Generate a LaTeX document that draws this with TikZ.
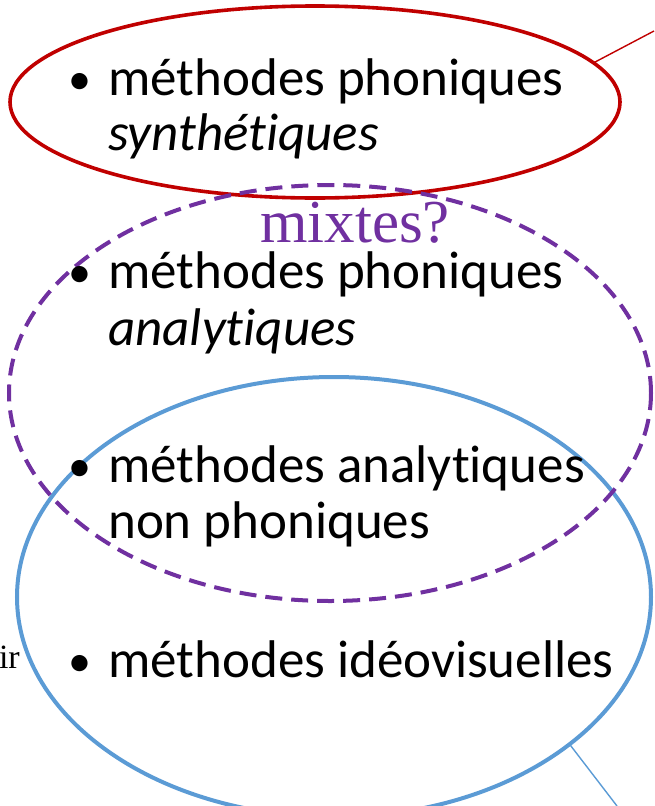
\documentclass[tikz,border=0pt]{standalone}
\usepackage{fontspec}
\setmainfont[RawFeature=-liga]{Carlito}
\newfontfamily\serifface{Liberation Serif}
\usetikzlibrary{shapes.geometric}
\definecolor{synthred}{HTML}{C00000}
\definecolor{mixpurple}{HTML}{7030A0}
\definecolor{ideoblue}{HTML}{5B9BD5}
\begin{document}
\begin{tikzpicture}[x=1pt,y=-1pt,
  ring/.style={ellipse,inner sep=0pt,outer sep=0pt},
  item/.style={anchor=base west,inner sep=0pt,font=\fontsize{53}{57}\selectfont},
  bul/.style={anchor=base,inner sep=0pt,font=\fontsize{46}{57}\selectfont},
  lead/.style={line width=1.4pt}]
\useasboundingbox (0,0) rectangle (654,806);
% the three groupings of reading methods
\node[ring,draw=ideoblue,line width=4pt,minimum width=634pt,minimum height=440pt] (ideo) at (334,597) {};
\node[ring,draw=synthred,line width=3.6pt,minimum width=610pt,minimum height=192pt] (synth) at (315,102) {};
\node[ring,draw=mixpurple,line width=4pt,dash pattern=on 17pt off 9pt,minimum width=642pt,minimum height=416pt] (mix) at (330,393) {};
% leader lines running off the page
\coordinate (synthend) at (654,31);
\coordinate (ideoend) at (617,806);
\draw[lead,synthred] (synth.8.5) -- (synthend);
\draw[lead,ideoblue] (ideo.-32) -- (ideoend);
% labels
\node[anchor=base,inner sep=0pt,text=mixpurple,font=\serifface\fontsize{61}{61}\selectfont] (mixlbl) at (355,242) {mixtes?};
\node[anchor=base east,inner sep=0pt,font=\serifface\fontsize{34}{34}\selectfont] (cut) at (20,668) {ir};
\node[bul] (b1) at (80,94) {•};
\node[item] (t1a) at (108,95) {méthodes phoniques};
\node[item] (t1b) at (108,150) {\itshape synthétiques};
\node[bul] (b2) at (80,287) {•};
\node[item] (t2a) at (108,288) {méthodes phoniques};
\node[item] (t2b) at (108,345) {\itshape analytiques};
\node[bul] (b3) at (80,481) {•};
\node[item] (t3a) at (108,482) {méthodes analytiques};
\node[item] (t3b) at (108,538) {non phoniques};
\node[bul] (b4) at (80,676) {•};
\node[item] (t4a) at (108,677) {méthodes idéovisuelles};
\end{tikzpicture}
\end{document}
